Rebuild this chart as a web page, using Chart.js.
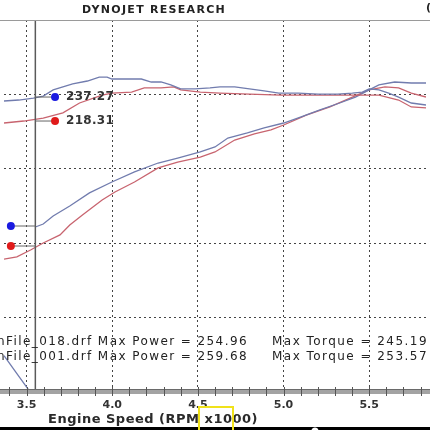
<!DOCTYPE html>
<html>
<head>
<meta charset="utf-8">
<script src="https://cdn.jsdelivr.net/npm/chart.js@4/dist/chart.umd.min.js"></script>
<style>
html,body{margin:0;padding:0;background:#fff;}
canvas{display:block;}
</style>
</head>
<body>
<canvas id="c" width="430" height="430"></canvas>
<script>
// ---- data (RPM x1000, value) ----
const xTicks = [3.5, 4.0, 4.5, 5.0, 5.5];
const yGrid = [105, 150, 195, 240];

const blueTqRpm = [3.368,3.454,3.540,3.597,3.655,3.712,3.769,3.855,3.924,3.970,3.998,4.084,4.170,4.228,4.285,4.342,4.400,4.485,4.571,4.629,4.715,4.801,4.887,4.973,5.087,5.202,5.316,5.402,5.460,5.500,5.557,5.614,5.672,5.746,5.832];
const blueTq    = [236.0,236.6,237.8,239.0,242.7,244.5,246.3,248.1,250.5,250.5,249.3,249.3,249.3,247.5,247.5,245.7,243.3,243.3,243.9,244.5,244.5,243.3,242.1,240.8,240.8,240.2,240.2,240.8,241.4,243.3,242.7,240.8,238.4,234.8,233.6];

const redTqRpm = [3.368,3.483,3.597,3.712,3.809,3.941,3.998,4.113,4.187,4.285,4.359,4.400,4.514,4.629,4.801,4.984,5.202,5.443,5.557,5.672,5.746,5.832];
const redTq    = [222.7,223.9,225.7,228.8,234.8,239.6,240.8,241.4,243.9,243.9,244.5,242.7,241.4,240.8,240.2,239.6,239.6,239.6,239.6,236.6,232.4,231.8];

const bluePwRpm = [3.551,3.597,3.655,3.752,3.867,3.998,4.130,4.268,4.382,4.514,4.600,4.675,4.789,4.887,5.001,5.099,5.213,5.328,5.420,5.500,5.557,5.649,5.746,5.832];
const bluePw    = [159.8,161.6,166.5,172.5,180.4,187.0,193.1,198.5,201.5,205.2,208.2,213.6,216.7,219.7,222.7,226.3,230.6,234.8,238.4,242.7,245.7,247.5,246.9,246.9];

const redPwRpm = [3.368,3.443,3.523,3.597,3.695,3.752,3.826,3.941,4.016,4.130,4.268,4.382,4.514,4.600,4.715,4.830,4.927,5.001,5.133,5.271,5.402,5.500,5.592,5.672,5.746,5.832];
const redPw    = [140.4,141.7,145.9,150.1,155.0,161.0,167.1,176.1,181.0,187.0,195.5,199.1,202.1,205.2,212.4,216.1,218.5,221.5,227.5,232.4,238.4,242.7,244.5,243.9,240.8,238.4];

const tailRpm = [3.368,3.437,3.517];
const tailVal = [82.0,72.0,60.6];

const cursorRpm = 3.551;
const markerRpm = [3.666, 3.666, 3.408, 3.408];
const markerVal = [238.4, 223.9, 160.4, 148.3];
const markerLabels = ["237.27", "218.31", "", ""];

const fileNames = ["nFile_018.drf", "nFile_001.drf"];
const maxPower = ["254.96", "259.68"];
const maxTorque = ["245.19", "253.57"];

// ---- helpers ----
const pts = (xs, ys) => xs.map((x, i) => ({x: x, y: ys[i]}));
const BLUE = '#717cae', RED = '#c8646f';

function lineDs(data, color, w) {
  return {type: 'line', data: data, borderColor: color, borderWidth: w || 1.3,
          pointRadius: 0, fill: false, tension: 0, order: 2};
}

function fitText(ctx, text, x, y, w) {
  ctx.letterSpacing = '0px';
  const m = ctx.measureText(text).width;
  const ls = (w - m) / text.length;
  ctx.letterSpacing = ls + 'px';
  ctx.fillText(text, x, y);
  ctx.letterSpacing = '0px';
}

const decor = {
  id: 'decor',
  afterDraw(chart) {
    const ctx = chart.ctx;
    const xs = chart.scales.x, ys = chart.scales.y;
    const area = chart.chartArea;
    ctx.save();
    // top rule
    ctx.strokeStyle = '#9a9a9a'; ctx.lineWidth = 1;
    ctx.beginPath(); ctx.moveTo(0, area.top + 0.5); ctx.lineTo(430, area.top + 0.5); ctx.stroke();
    // axis bar
    ctx.fillStyle = '#a3a3a3';
    ctx.fillRect(0, area.bottom - 2, 430, 4);
    ctx.strokeStyle = '#6a6a6a';
    ctx.beginPath(); ctx.moveTo(0, area.bottom - 2.5); ctx.lineTo(430, area.bottom - 2.5); ctx.stroke();
    // minor ticks every 0.1
    ctx.strokeStyle = '#555';
    for (let v = 3.4; v <= 5.85; v += 0.1) {
      const px = Math.round(xs.getPixelForValue(v)) + 0.5;
      ctx.beginPath(); ctx.moveTo(px, area.bottom - 5); ctx.lineTo(px, area.bottom + 4); ctx.stroke();
    }
    // title
    ctx.fillStyle = '#222';
    ctx.textBaseline = 'middle';
    ctx.textAlign = 'left';
    ctx.font = 'bold 11px "DejaVu Sans"';
    fitText(ctx, 'DYNOJET RESEARCH', 82, 10, 144);
    ctx.fillText('(', 426, 8);
    // cursor value labels
    ctx.font = 'bold 12px "DejaVu Sans"';
    ctx.fillStyle = '#333';
    markerLabels.forEach((t, i) => {
      if (!t) return;
      const px = xs.getPixelForValue(markerRpm[i]) + 11;
      const py = ys.getPixelForValue(markerVal[i]);
      fitText(ctx, t, px, py, 48);
    });
    // max texts
    ctx.font = '12px "DejaVu Sans"';
    ctx.fillStyle = '#222';
    const rows = [342, 357];
    rows.forEach((ry, i) => {
      fitText(ctx, fileNames[i] + ' Max Power = ' + maxPower[i], -3, ry, 251);
      fitText(ctx, 'Max Torque = ' + maxTorque[i], 272, ry, 156);
    });
    // axis title
    ctx.font = 'bold 13px "DejaVu Sans"';
    ctx.fillStyle = '#2a2a2a';
    fitText(ctx, 'Engine Speed (RPM x1000)', 48, 420, 210);
    // black bar
    ctx.fillStyle = '#000';
    ctx.fillRect(0, 427, 430, 3);
    ctx.fillStyle = '#fff';
    ctx.beginPath(); ctx.arc(315, 431, 3.5, 0, Math.PI * 2); ctx.fill();
    // yellow box
    ctx.strokeStyle = '#f0e21a'; ctx.lineWidth = 2;
    ctx.beginPath();
    ctx.moveTo(199, 432); ctx.lineTo(199, 407); ctx.lineTo(233, 407); ctx.lineTo(233, 432);
    ctx.stroke();
    ctx.restore();
  }
};

const datasets = [
  {type: 'scatter', data: pts(markerRpm, markerVal), pointRadius: 4, pointHoverRadius: 4,
   backgroundColor: ['#1a1ae0', '#e01a1a', '#1a1ae0', '#e01a1a'], borderWidth: 0, order: 0},
  lineDs(pts([cursorRpm, markerRpm[0]], [markerVal[0], markerVal[0]]), '#666', 1),
  lineDs(pts([cursorRpm, markerRpm[1]], [markerVal[1], markerVal[1]]), '#666', 1),
  lineDs(pts([markerRpm[2], cursorRpm], [markerVal[2], markerVal[2]]), '#666', 1),
  lineDs(pts([markerRpm[3], cursorRpm], [markerVal[3], markerVal[3]]), '#666', 1),
  lineDs(pts([cursorRpm, cursorRpm], [60, 285]), '#5a5a5a', 1.5),
  lineDs(pts(blueTqRpm, blueTq), BLUE),
  lineDs(pts(redTqRpm, redTq), RED),
  lineDs(pts(bluePwRpm, bluePw), BLUE),
  lineDs(pts(redPwRpm, redPw), RED),
  lineDs(pts(tailRpm, tailVal), BLUE),
];

new Chart(document.getElementById('c'), {
  data: {datasets: datasets},
  options: {
    responsive: false,
    animation: false,
    events: [],
    layout: {padding: {top: 20, left: 0, right: 0, bottom: 0}},
    plugins: {legend: {display: false}, tooltip: {enabled: false}, title: {display: false}},
    scales: {
      x: {
        type: 'linear', min: 3.368, max: 5.832,
        afterBuildTicks: s => { s.ticks = xTicks.map(v => ({value: v})); },
        afterFit: s => { s.height = 38; },
        ticks: {color: '#333', font: {family: 'DejaVu Sans', size: 11, weight: 'bold'},
                padding: 7, maxRotation: 0, autoSkip: false, callback: v => v.toFixed(1)},
        grid: {color: '#444', lineWidth: 1, drawTicks: false},
        border: {display: false, dash: [2, 3]}
      },
      y: {
        type: 'linear', min: 60, max: 285,
        afterBuildTicks: s => { s.ticks = yGrid.map(v => ({value: v})); },
        afterFit: s => { s.width = 0; },
        ticks: {display: false},
        grid: {color: '#444', lineWidth: 1, drawTicks: false},
        border: {display: false, dash: [2, 3]}
      }
    }
  },
  plugins: [decor]
});
</script>
</body>
</html>
